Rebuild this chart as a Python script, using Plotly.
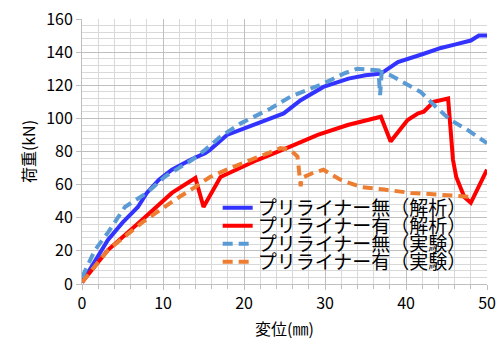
import plotly.graph_objects as go

names = ["プリライナー無（解析）", "プリライナー有（解析）", "プリライナー無（実験）", "プリライナー有（実験）"]

x_blue = [0, 1.5, 3.2, 5.0, 6.9, 8.0, 9.5, 11.1, 13.4, 15.2, 15.8, 17.9, 19.5, 21.7, 23.5, 24.9, 27.0, 29.8, 32.9, 35.0, 36.9, 39.0, 42.2, 44.3, 46.0, 48.0, 49.0, 50.0]
y_blue = [1, 13, 26.6, 37, 46.5, 55, 63, 69, 75, 79, 81, 90, 93, 97, 100, 103, 111, 119, 124, 126, 127, 134, 139, 142.5, 144.5, 147, 150, 150]

x_red = [0, 3.2, 7.4, 11.1, 14.0, 15.0, 17.1, 21.7, 25.7, 29.1, 32.8, 36.9, 38.1, 40.2, 41.5, 42.2, 43.4, 45.2, 45.8, 46.2, 47.2, 48.0, 50.0]
y_red = [1, 20.5, 38.6, 55, 64, 46.5, 64.6, 75, 83, 90, 96, 101, 86, 99, 103, 104, 110, 112, 75, 64.6, 52.5, 49, 69]

x_lblue = [0, 1.6, 3.2, 5.3, 8.0, 10.3, 13.6, 15.2, 17.1, 19.6, 23.3, 25.7, 29.8, 32.3, 34.0, 36.6, 36.8, 37.0, 38.1, 41.8, 43.9, 45.5, 47.6, 50.0]
y_lblue = [4, 20.5, 31, 46.5, 55, 65, 75, 81, 89, 97, 106, 113, 121, 127, 130, 129, 114, 128, 126, 116, 106, 99, 93, 85]

x_orange = [0, 3.2, 7.4, 11.5, 14.0, 15.8, 18.3, 22.0, 24.5, 25.7, 26.6, 27.0, 27.1, 28.5, 29.8, 31.9, 34.4, 37.3, 40.6, 43.9, 47.2, 48.4]
y_orange = [1, 20.5, 37, 51, 58.6, 64.6, 70, 77, 82, 81, 77, 59, 64, 67, 69, 63, 58.6, 57, 55, 54, 52.5, 52.5]

x_ticks = [0, 10, 20, 30, 40, 50]
y_ticks = [0, 20, 40, 60, 80, 100, 120, 140, 160]

FONT = "Noto Sans CJK JP"

series = [
    (x_blue, y_blue, dict(color="#3333FF", width=4)),
    (x_red, y_red, dict(color="#FF0000", width=4)),
    (x_lblue, y_lblue, dict(color="#5B9BD5", width=4, dash="10px,6px")),
    (x_orange, y_orange, dict(color="#ED7D31", width=4, dash="10px,6px")),
]
legend_ids = ["legend", "legend2", "legend3", "legend4"]

fig = go.Figure()
for (xs, ys, ln), nm, lg in zip(series, names, legend_ids):
    fig.add_trace(go.Scatter(x=xs, y=ys, mode="lines", name=nm, line=ln, legend=lg))

row_y = [0.287, 0.219, 0.151, 0.083]
leg_common = dict(x=0.335, xanchor="left", yanchor="middle", bgcolor="rgba(0,0,0,0)",
                  font=dict(size=19, family=FONT), borderwidth=0)
layout_legends = {lg: dict(y=ry, **leg_common) for lg, ry in zip(legend_ids, row_y)}

fig.update_layout(
    width=498, height=343,
    margin=dict(l=82, r=11, t=19, b=59, autoexpand=False),
    paper_bgcolor="white", plot_bgcolor="white",
    font=dict(family=FONT, size=16, color="black"),
    showlegend=True,
    xaxis=dict(range=[0, 50], tickvals=x_ticks, showgrid=True, gridcolor="#bfbfbf", gridwidth=1,
               showline=True, linecolor="#bfbfbf", ticks="outside", ticklen=5, tickcolor="#bfbfbf",
               zeroline=False, tickfont=dict(size=16), automargin=False,
               minor=dict(dtick=2, showgrid=True, gridcolor="#d9d9d9", ticks="outside", ticklen=4, tickcolor="#bfbfbf"),
               title=dict(text="変位(㎜)", font=dict(size=16), standoff=10)),
    yaxis=dict(range=[0, 160], tickvals=y_ticks, showgrid=True, gridcolor="#bfbfbf", gridwidth=1,
               showline=True, linecolor="#bfbfbf", ticks="outside", ticklen=5, tickcolor="#bfbfbf",
               zeroline=False, tickfont=dict(size=16), automargin=False,
               minor=dict(dtick=4, showgrid=True, gridcolor="#d9d9d9"),
               title=dict(text="荷重(kN)", font=dict(size=16), standoff=6)),
    **layout_legends,
)

fig.write_html("out.html", config={"displayModeBar": False},
               post_script="document.body.style.margin='0';document.body.style.overflow='hidden';")
